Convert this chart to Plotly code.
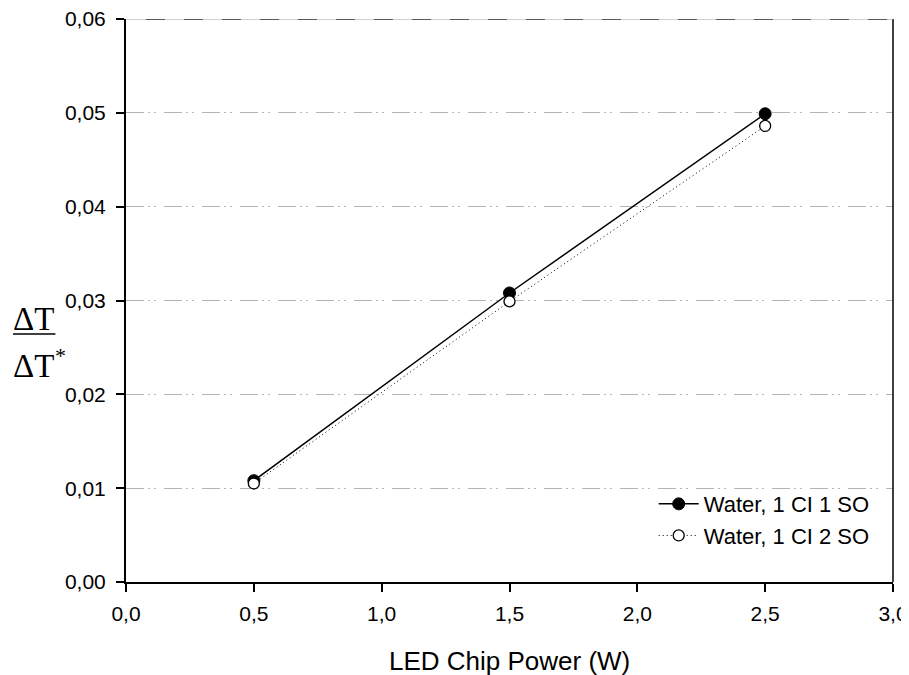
import plotly.graph_objects as go

power = [0.5, 1.5, 2.5]
series1_name = "Water, 1 CI 1 SO"
series1 = [0.0108, 0.0308, 0.0499]
series2_name = "Water, 1 CI 2 SO"
series2 = [0.0105, 0.0299, 0.0486]

x_ticks = [0.0, 0.5, 1.0, 1.5, 2.0, 2.5, 3.0]
x_labels = ["0,0", "0,5", "1,0", "1,5", "2,0", "2,5", "3,0"]
y_ticks = [0.00, 0.01, 0.02, 0.03, 0.04, 0.05, 0.06]
y_labels = ["0,00", "0,01", "0,02", "0,03", "0,04", "0,05", "0,06"]
x_title = "LED Chip Power (W)"

fig = go.Figure()
fig.add_trace(go.Scatter(
    x=power, y=series1, name=series1_name, mode="lines+markers",
    line=dict(color="black", width=1.5),
    marker=dict(symbol="circle", size=12, color="black", line=dict(color="black", width=1)),
))
fig.add_trace(go.Scatter(
    x=power, y=series2, name=series2_name, mode="lines+markers",
    line=dict(color="black", width=1, dash="1px,3px"),
    marker=dict(symbol="circle", size=11, color="white", line=dict(color="black", width=1.3)),
))

sans = "Liberation Sans, Arial, sans-serif"
serif = "Liberation Serif, Times New Roman, serif"
axis_font = dict(family=sans, size=21, color="black")
grid_dash = "18px,4px,2px,4px,2px,8px"

fig.update_xaxes(
    range=[0, 3.0], tickvals=x_ticks, ticktext=x_labels,
    showline=True, linecolor="black", linewidth=2,
    ticks="outside", ticklen=8, tickwidth=1.5, tickcolor="black",
    showgrid=False, zeroline=False, tickfont=axis_font, ticklabelstandoff=4,
    ticklabeloverflow="allow", automargin=False,
)
fig.update_yaxes(
    range=[0, 0.06], tickvals=y_ticks, ticktext=y_labels,
    showline=True, linecolor="black", linewidth=2,
    ticks="outside", ticklen=8, tickwidth=1.5, tickcolor="black",
    showgrid=True, gridcolor="#b4b4b4", gridwidth=1, griddash=grid_dash,
    zeroline=False, tickfont=axis_font, ticklabelstandoff=6,
    ticklabeloverflow="allow", automargin=False,
)

# x-axis title
fig.add_annotation(text=x_title, xref="paper", yref="paper", x=0.5, y=-0.14,
                   xanchor="center", yanchor="middle", showarrow=False,
                   font=dict(family=sans, size=26, color="black"))

# right frame line and top dashed border
fig.add_shape(type="line", xref="paper", yref="paper", x0=1, x1=1, y0=0, y1=1,
              line=dict(color="black", width=1.5))
fig.add_shape(type="line", xref="x", yref="y", x0=0, x1=3.0, y0=0.06, y1=0.06,
              line=dict(color="#a0a0a0", width=1))
fig.add_shape(type="line", xref="x", yref="y", x0=0.078, x1=3.0, y0=0.06, y1=0.06,
              line=dict(color="#333333", width=1.5, dash="19px,19px"))

# y-axis title as a fraction
title_font = dict(family=serif, size=33, color="black")
fig.add_annotation(text="ΔT", xref="paper", yref="paper", x=-0.12, y=0.467,
                   xanchor="center", yanchor="middle", showarrow=False, font=title_font)
fig.add_annotation(text="ΔT", xref="paper", yref="paper", x=-0.12, y=0.3837,
                   xanchor="center", yanchor="middle", showarrow=False, font=title_font)
fig.add_annotation(text="*", xref="paper", yref="paper", x=-0.086, y=0.403,
                   xanchor="center", yanchor="middle", showarrow=False,
                   font=dict(family=serif, size=22, color="black"))
fig.add_shape(type="line", xref="paper", yref="paper", x0=-0.1473, x1=-0.092,
              y0=0.4405, y1=0.4405, line=dict(color="black", width=1.5))

fig.update_layout(
    width=909, height=675,
    margin=dict(l=118, r=24, t=11, b=101, autoexpand=False),
    plot_bgcolor="white", paper_bgcolor="white",
    showlegend=True,
    legend=dict(x=0.688, y=0.11, xanchor="left", yanchor="middle",
                bgcolor="rgba(0,0,0,0)", font=dict(family=sans, size=22, color="black"),
                itemwidth=40, tracegroupgap=0),
)

fig.write_html("out.html", default_width="909px", default_height="675px")
